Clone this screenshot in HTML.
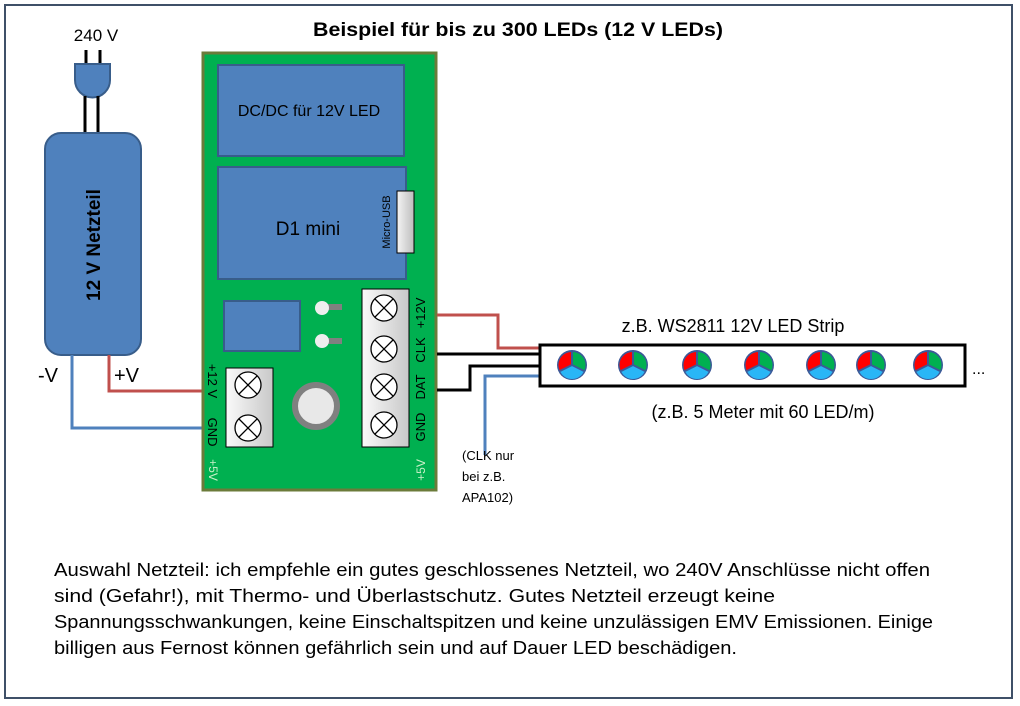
<!DOCTYPE html>
<html><head><meta charset="utf-8"><style>html,body{margin:0;padding:0;background:#fff}svg{display:block}text{font-family:"Liberation Sans",sans-serif}</style></head><body>
<svg width="1020" height="706" viewBox="0 0 1020 706" xmlns="http://www.w3.org/2000/svg">
<defs>
<linearGradient id="g" x1="0" x2="1"><stop offset="0" stop-color="#f4f4f4"/><stop offset="1" stop-color="#bdbdbd"/></linearGradient>
<linearGradient id="gv" x1="0" x2="1"><stop offset="0" stop-color="#fafafa"/><stop offset="1" stop-color="#c8c8c8"/></linearGradient>
<g id="screw"><circle r="13" fill="#fff" stroke="#000" stroke-width="1.3"/><path d="M-9,-9L9,9M9,-9L-9,9" stroke="#000" stroke-width="1.3"/></g>
<g id="led"><circle r="15" fill="#3b5998"/><path d="M0,0 L-12,6 A13,13 0 0,1 0,-13Z" fill="#ff0000"/><path d="M0,0 L0,-13 A13,13 0 0,1 12,6Z" fill="#00b050"/><path d="M0,0 L12,6 A13,13 0 0,1 -12,6Z" fill="#29b6f6"/><path d="M0,0L0,-13M0,0L-12,6M0,0L12,6" stroke="#3b5998" stroke-width="2"/></g>
</defs>
<rect x="5" y="5" width="1007" height="693" fill="#fff" stroke="#3f5068" stroke-width="2"/>
<text x="518" y="36" font-size="19" font-weight="bold" text-anchor="middle" textLength="410" lengthAdjust="spacingAndGlyphs">Beispiel für bis zu 300 LEDs (12 V LEDs)</text>
<text x="96" y="41" font-size="17" text-anchor="middle">240 V</text>
<path d="M86,50V66M100,50V66" stroke="#000" stroke-width="3"/>
<path d="M75,64H110V80A17,17 0 0,1 75,80Z" fill="#4f81bd" stroke="#385d8a" stroke-width="2"/>
<path d="M85,96V133M98,96V133" stroke="#000" stroke-width="3"/>
<rect x="45" y="133" width="96" height="222" rx="16" fill="#4f81bd" stroke="#385d8a" stroke-width="2"/>
<text transform="translate(100,245) rotate(-90)" font-size="19" font-weight="bold" text-anchor="middle">12 V Netzteil</text>
<text x="38" y="382" font-size="20">-V</text>
<text x="114" y="382" font-size="20">+V</text>
<path d="M72,355V428H202" fill="none" stroke="#4f81bd" stroke-width="3"/>
<path d="M109,355V391H202" fill="none" stroke="#c0504d" stroke-width="3"/>
<rect x="203" y="53" width="233" height="437" fill="#00b050" stroke="#6b7b3a" stroke-width="3"/>
<rect x="218" y="65" width="186" height="91" fill="#4f81bd" stroke="#385d8a" stroke-width="2"/>
<text x="309" y="116" font-size="16" text-anchor="middle">DC/DC für 12V LED</text>
<rect x="218" y="167" width="188" height="112" fill="#4f81bd" stroke="#385d8a" stroke-width="2"/>
<text x="308" y="235" font-size="19" text-anchor="middle">D1 mini</text>
<rect x="397" y="191" width="17" height="62" fill="url(#g)" stroke="#000" stroke-width="1"/>
<text transform="translate(390,222) rotate(-90)" font-size="11" text-anchor="middle">Micro-USB</text>
<rect x="224" y="301" width="76" height="50" fill="#4f81bd" stroke="#385d8a" stroke-width="2"/>
<rect x="322" y="304" width="20" height="6" fill="#808080"/><circle cx="322" cy="308" r="7" fill="#eee"/>
<rect x="322" y="338" width="20" height="6" fill="#808080"/><circle cx="322" cy="341" r="7" fill="#eee"/>
<circle cx="316" cy="406" r="21" fill="#e8e8e8" stroke="#808080" stroke-width="6"/>
<rect x="362" y="289" width="47" height="158" fill="url(#gv)" stroke="#000" stroke-width="1"/>
<use href="#screw" x="384" y="308"/><use href="#screw" x="384" y="349"/><use href="#screw" x="384" y="387"/><use href="#screw" x="384" y="425"/>
<rect x="226" y="368" width="47" height="79" fill="url(#gv)" stroke="#000" stroke-width="1"/>
<use href="#screw" x="248" y="385"/><use href="#screw" x="248" y="428"/>
<g font-size="13" fill="#000">
<text transform="translate(425,313) rotate(-90)" text-anchor="middle">+12V</text>
<text transform="translate(425,350) rotate(-90)" text-anchor="middle">CLK</text>
<text transform="translate(425,387) rotate(-90)" text-anchor="middle">DAT</text>
<text transform="translate(425,427) rotate(-90)" text-anchor="middle">GND</text>
<text transform="translate(208,381) rotate(90)" text-anchor="middle">+12 V</text>
<text transform="translate(208,432) rotate(90)" text-anchor="middle">GND</text>
</g>
<text transform="translate(209,470) rotate(90)" font-size="12" fill="#c8f0c8" text-anchor="middle">+5V</text>
<text transform="translate(425,470) rotate(-90)" font-size="12" fill="#c8f0c8" text-anchor="middle">+5V</text>
<path d="M437,315H498V348H540" fill="none" stroke="#c0504d" stroke-width="3"/>
<path d="M437,354H540" fill="none" stroke="#000" stroke-width="3"/>
<path d="M437,390H470V366H540" fill="none" stroke="#000" stroke-width="3"/>
<path d="M485,455V376H540" fill="none" stroke="#4f81bd" stroke-width="3"/>
<rect x="540" y="345" width="425" height="41" fill="#fff" stroke="#000" stroke-width="3"/>
<use href="#led" x="572" y="365"/><use href="#led" x="633" y="365"/><use href="#led" x="697" y="365"/><use href="#led" x="759" y="365"/><use href="#led" x="821" y="365"/><use href="#led" x="871" y="365"/><use href="#led" x="928" y="365"/>
<text x="972" y="374" font-size="16">...</text>
<text x="733" y="332" font-size="18" text-anchor="middle">z.B. WS2811  12V LED Strip</text>
<text x="763" y="418" font-size="18" text-anchor="middle">(z.B. 5 Meter mit 60 LED/m)</text>
<g font-size="13"><text x="462" y="460">(CLK nur</text><text x="462" y="481">bei z.B.</text><text x="462" y="502">APA102)</text></g>
<g font-size="18">
<text x="54" y="576" textLength="876" lengthAdjust="spacingAndGlyphs">Auswahl Netzteil: ich empfehle ein gutes geschlossenes Netzteil, wo 240V Anschlüsse nicht offen</text>
<text x="54" y="602" textLength="721" lengthAdjust="spacingAndGlyphs">sind (Gefahr!), mit Thermo- und Überlastschutz. Gutes Netzteil erzeugt keine</text>
<text x="54" y="628" textLength="879" lengthAdjust="spacingAndGlyphs">Spannungsschwankungen, keine Einschaltspitzen und keine unzulässigen EMV Emissionen. Einige</text>
<text x="54" y="654" textLength="683" lengthAdjust="spacingAndGlyphs">billigen aus Fernost können gefährlich sein und auf Dauer LED beschädigen.</text>
</g>
</svg>
</body></html>
